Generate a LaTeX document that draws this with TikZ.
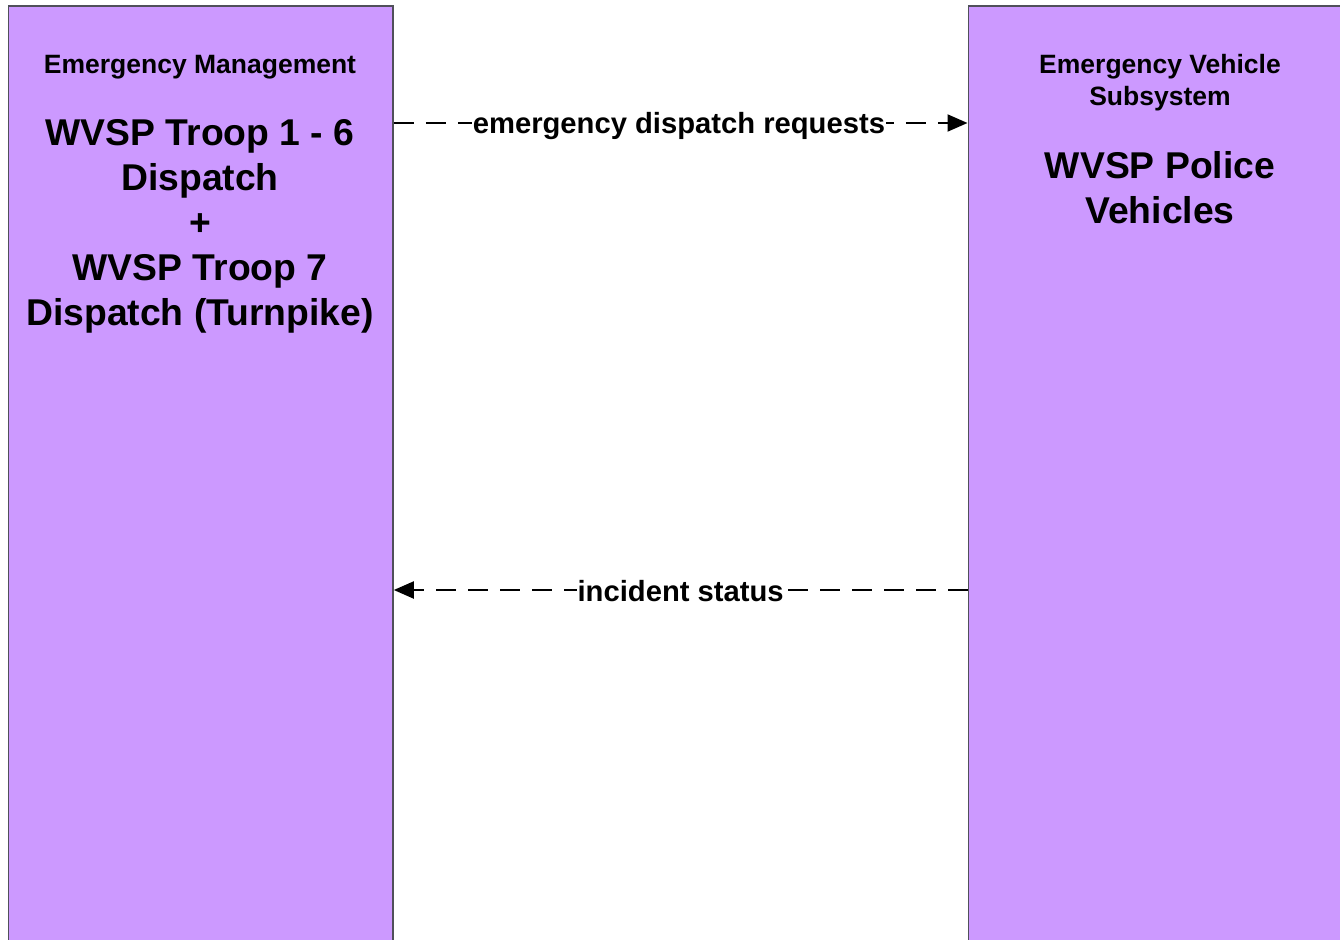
\documentclass[tikz,border=0pt]{standalone}
\usepackage{fontspec}
\setmainfont{Liberation Sans}
\usetikzlibrary{arrows.meta}
\definecolor{boxfill}{HTML}{CC99FF}
\definecolor{boxline}{HTML}{50505A}
\tikzset{
  sysbox/.style={draw=boxline, line width=1.8pt, fill=boxfill, inner sep=0pt, anchor=north west},
  small/.style={font=\bfseries\fontsize{26.5}{32}\selectfont, align=center, inner sep=0pt},
  big/.style={font=\bfseries\fontsize{37.3}{45}\selectfont, align=center, inner sep=0pt},
  flow/.style={line width=2pt, dash pattern=on 20pt off 12pt, -{Triangle[length=20pt,width=17pt]}},
  flowlabel/.style={font=\bfseries\fontsize{29.2}{32}\selectfont, fill=white, inner sep=1pt, solid}
}
\begin{document}
\begin{tikzpicture}[x=1pt,y=-1pt]
\useasboundingbox (0,0) rectangle (1340,939);
\clip (0,0) rectangle (1340,939);
\node[sysbox, minimum width=384.5pt, minimum height=945pt] (em) at (7.5,5.5) {};
\node[sysbox, minimum width=380pt, minimum height=945pt] (ev) at (967.5,5.5) {};
\node[small] (emt) at (200,67) {Emergency Management};
\node[big, anchor=north] (emn) at (200,119) {WVSP Troop 1 - 6\\Dispatch\\+\\WVSP Troop 7\\Dispatch (Turnpike)};
\node[small, anchor=north] (evt) at (1160,54) {Emergency Vehicle\\Subsystem};
\node[big, anchor=north] (evn) at (1160,151) {WVSP Police\\Vehicles};
\coordinate (r1) at (0,123);
\coordinate (r2) at (0,590);
\draw[flow] (em.east |- r1) -- (ev.west |- r1) node[flowlabel, pos=0.497, yshift=-3pt] (l1) {emergency dispatch requests};
\draw[flow] (ev.west |- r2) -- (em.east |- r2) node[flowlabel, pos=0.5, yshift=-1pt] (l2) {incident status};
\end{tikzpicture}
\end{document}
